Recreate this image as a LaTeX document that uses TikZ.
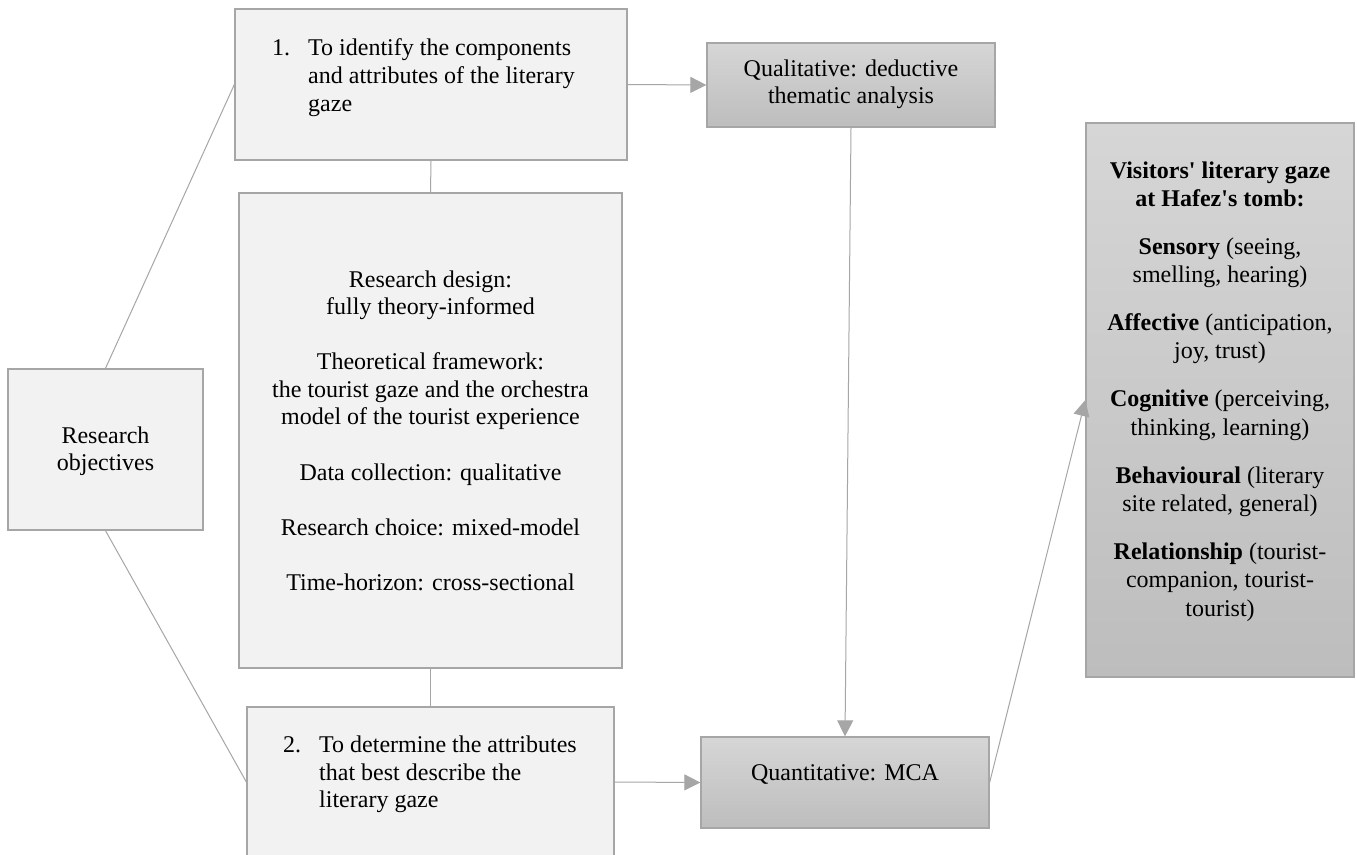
\documentclass[tikz,border=0pt]{standalone}
\usepackage{fontspec}
\setmainfont{Liberation Serif}
\usetikzlibrary{arrows.meta}
\definecolor{boxfill}{HTML}{F2F2F2}
\definecolor{edgegray}{HTML}{A6A6A6}
\definecolor{shadetop}{HTML}{D6D6D6}
\definecolor{shadebot}{HTML}{BDBDBD}
\begin{document}
\begin{tikzpicture}[x=1pt,y=-1pt,
  lightbox/.style={draw=edgegray, line width=1.3pt, fill=boxfill, inner sep=0pt},
  shadebox/.style={draw=edgegray, line width=1.3pt, top color=shadetop, bottom color=shadebot, inner sep=0pt},
  lbl/.style={anchor=base, inner sep=0pt, font=\fontsize{24}{27.6}\selectfont},
  lblw/.style={lbl, anchor=base west},
  conn/.style={draw=edgegray, line width=1pt},
  arr/.style={conn, -{Triangle[length=16pt,width=16pt]}}]
\useasboundingbox (0,0) rectangle (1357,854);
\clip (0,0) rectangle (1357,854);
\fill[white] (0,0) rectangle (1357,854);

% boxes
\node[lightbox, minimum width=195pt, minimum height=161pt] (ro) at (105.5,449.5) {};
\node[lightbox, minimum width=392pt, minimum height=151pt] (b1) at (431,84.5) {};
\node[lightbox, minimum width=383pt, minimum height=475pt] (mid) at (430.5,430.5) {};
\node[lightbox, minimum width=367pt, minimum height=150pt] (b2) at (430.5,782) {};
\node[shadebox, minimum width=288pt, minimum height=84pt] (qual) at (851,85) {};
\node[shadebox, minimum width=288pt, minimum height=91pt] (mca) at (845,782.5) {};
\node[shadebox, minimum width=268pt, minimum height=554pt] (res) at (1220,400) {};

% connectors
\draw[conn] (ro.north) -- (b1.west);
\draw[conn] (ro.south) -- (b2.west);
\draw[conn] (b1.south) -- (mid.north);
\draw[conn] (mid.south) -- (b2.north);
\draw[arr] (b1.east) -- (qual.west);
\draw[arr] (b2.east) -- (mca.west);
\draw[arr] (qual.south) -- (mca.north);
\draw[arr] (mca.east) -- (res.west);

% texts
\node[lbl] (ro1) at (105.5,443) {Research};
\node[lbl] (ro2) at (105.5,470) {objectives};

\node[lblw] (n1) at (272,55) {1.};
\node[lblw] (b1a) at (308,55) {To identify the components};
\node[lblw] (b1b) at (308,83) {and attributes of the literary};
\node[lblw] (b1c) at (308,111) {gaze};

\node[lblw] (n2) at (283,752) {2.};
\node[lblw] (b2a) at (319,752) {To determine the attributes};
\node[lblw] (b2b) at (319,780) {that best describe the};
\node[lblw] (b2c) at (319,807) {literary gaze};

\node[lbl] (m1) at (430.5,287) {Research design:};
\node[lbl] (m2) at (430.5,314) {fully theory-informed};
\node[lbl] (m3) at (430.5,369) {Theoretical framework:};
\node[lbl] (m4) at (430.5,397) {the tourist gaze and the orchestra};
\node[lbl] (m5) at (430.5,424) {model of the tourist experience};
\node[lbl] (m6) at (430.5,480) {Data collection: qualitative};
\node[lbl] (m7) at (430.5,535) {Research choice: mixed-model};
\node[lbl] (m8) at (430.5,590) {Time-horizon: cross-sectional};

\node[lbl] (q1) at (851,76) {Qualitative: deductive};
\node[lbl] (q2) at (851,103) {thematic analysis};

\node[lbl] (mc1) at (845,780) {Quantitative: MCA};

\node[lbl] (r1) at (1220,178) {\textbf{Visitors\textquotesingle{} literary gaze}};
\node[lbl] (r2) at (1220,206.3) {\textbf{at Hafez\textquotesingle s tomb:}};
\node[lbl] (r3) at (1220,254.3) {\textbf{Sensory} (seeing,};
\node[lbl] (r4) at (1220,282.6) {smelling, hearing)};
\node[lbl] (r5) at (1220,330.6) {\textbf{Affective} (anticipation,};
\node[lbl] (r6) at (1220,358.9) {joy, trust)};
\node[lbl] (r7) at (1220,406.9) {\textbf{Cognitive} (perceiving,};
\node[lbl] (r8) at (1220,435.2) {thinking, learning)};
\node[lbl] (r9) at (1220,483.2) {\textbf{Behavioural} (literary};
\node[lbl] (r10) at (1220,511.5) {site related, general)};
\node[lbl] (r11) at (1220,559.5) {\textbf{Relationship} (tourist-};
\node[lbl] (r12) at (1220,587.8) {companion, tourist-};
\node[lbl] (r13) at (1220,616.1) {tourist)};
\end{tikzpicture}
\end{document}
